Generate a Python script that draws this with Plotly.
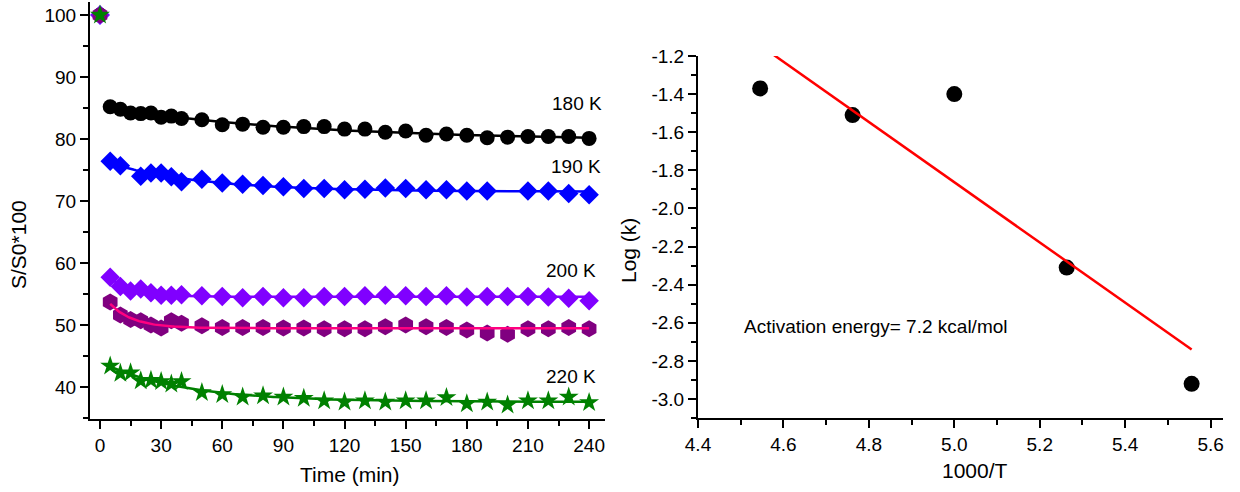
import numpy as np
import plotly.graph_objects as go

# ---------------- data ----------------
time_min = [0, 5, 10, 15, 20, 25, 30, 35, 40,
            50, 60, 70, 80, 90, 100, 110, 120, 130, 140, 150,
            160, 170, 180, 190, 200, 210, 220, 230, 240]

s_180K = [100, 85.2, 84.8, 84.2, 84.1, 84.2, 83.5, 83.7, 83.3,
          83.1, 82.3, 82.4, 81.9, 81.9, 82.0, 82.0, 81.6, 81.6, 81.1, 81.3,
          80.6, 80.8, 80.6, 80.2, 80.3, 80.4, 80.4, 80.4, 80.1]
s_190K = [100, 76.4, 75.7, None, 74.0, 74.5, 74.5, 73.9, 73.1,
          73.5, 72.9, 72.7, 72.5, 72.3, 72.0, 72.0, 71.8, 71.9, 72.1, 72.0,
          71.8, 71.8, 71.6, 71.6, None, 71.6, 71.6, 71.2, 71.0]
s_200K = [100, 57.7, 56.2, 55.5, 55.8, 55.2, 54.8, 54.8, 54.9,
          54.7, 54.6, 54.4, 54.6, 54.4, 54.4, 54.6, 54.6, 54.7, 54.8, 54.7,
          54.6, 54.7, 54.5, 54.6, 54.6, 54.6, 54.5, 54.3, 53.9]
s_210K = [100, 53.7, 51.6, 50.9, 50.7, 50.0, 49.5, 50.7, 50.3,
          49.9, 49.6, 49.6, 49.6, 49.5, 49.5, 49.4, 49.4, 49.4, 49.7, 50.0,
          49.7, 49.6, 49.2, 48.7, 48.5, 49.4, 49.4, 49.6, 49.4]
s_220K = [100, 43.4, 42.2, 42.3, 41.0, 41.1, 40.9, 40.5, 40.9,
          39.1, 38.8, 38.4, 38.6, 38.4, 38.2, 37.8, 37.6, 37.8, 37.6, 37.8,
          37.8, 38.3, 37.3, 37.6, 37.1, 37.8, 37.8, 38.4, 37.5]

temperatures_K = [220, 210, 200, 190, 180]
log_k = [-1.37, -1.51, -1.40, -2.31, -2.92]

left_x_ticks = [0, 30, 60, 90, 120, 150, 180, 210, 240]
left_y_ticks = [40, 50, 60, 70, 80, 90, 100]
right_x_ticks = [4.4, 4.6, 4.8, 5.0, 5.2, 5.4, 5.6]
right_x_labels = ["4.4", "4.6", "4.8", "5.0", "5.2", "5.4", "5.6"]
right_y_ticks = [-1.2, -1.4, -1.6, -1.8, -2.0, -2.2, -2.4, -2.6, -2.8, -3.0]
right_y_labels = ["-1.2", "-1.4", "-1.6", "-1.8", "-2.0", "-2.2", "-2.4",
                  "-2.6", "-2.8", "-3.0"]

FONT = "Arial, Liberation Sans, sans-serif"


def exp_decay_fit(t, y):
    """Least-squares fit of y = a + b*exp(-t/tau), tau by grid search."""
    t = np.asarray(t, float)
    y = np.asarray(y, float)
    best = None
    for tau in np.linspace(1.0, 600.0, 2400):
        A = np.column_stack([np.ones_like(t), np.exp(-t / tau)])
        coef, *_ = np.linalg.lstsq(A, y, rcond=None)
        err = np.sum((A @ coef - y) ** 2)
        if best is None or err < best[0]:
            best = (err, coef, tau)
    _, (a, b), tau = best
    return lambda tt: a + b * np.exp(-np.asarray(tt) / tau)


series = [
    ("180 K", s_180K, "circle", "#000000", "#000000", 15),
    ("190 K", s_190K, "diamond", "#0000FF", "#0000FF", 15),
    ("200 K", s_200K, "diamond", "#8000FF", "#8000FF", 15),
    ("210 K", s_210K, "hexagon", "#800080", "#FF0080", 17),
    ("220 K", s_220K, "star", "#008000", "#008000", 15),
]

fig = go.Figure()

for name, vals, symbol, mcolor, lcolor, msize in series:
    fig.add_trace(go.Scatter(
        x=time_min, y=vals, mode="markers", name=name,
        marker=dict(symbol=symbol, size=msize, color=mcolor, line=dict(width=0)),
        xaxis="x", yaxis="y", showlegend=False, cliponaxis=False,
    ))
    # decay fit over the measured points after t = 0
    pts = [(t, v) for t, v in zip(time_min, vals) if t > 0 and v is not None]
    tt = [p[0] for p in pts]
    vv = [p[1] for p in pts]
    model = exp_decay_fit(tt, vv)
    t_dense = np.linspace(min(tt), max(tt), 300)
    fig.add_trace(go.Scatter(
        x=t_dense, y=model(t_dense), mode="lines",
        line=dict(color=lcolor, width=2.5),
        xaxis="x", yaxis="y", showlegend=False, hoverinfo="skip",
    ))

# Arrhenius plot
inv_T = [1000.0 / T for T in temperatures_K]
slope, intercept = np.polyfit(inv_T, log_k, 1)
fit_x = np.array([min(inv_T), max(inv_T)])
fig.add_trace(go.Scatter(
    x=inv_T, y=log_k, mode="markers",
    marker=dict(symbol="circle", size=16, color="#000000"),
    xaxis="x2", yaxis="y2", showlegend=False,
))
fig.add_trace(go.Scatter(
    x=fit_x, y=slope * fit_x + intercept, mode="lines",
    line=dict(color="#FF0000", width=2.5),
    xaxis="x2", yaxis="y2", showlegend=False,
))

# Ea = -slope * ln(10) * R, with R in cal/(mol K); x is 1000/T
R_cal = 1.987
Ea_kcal = -slope * np.log(10) * R_cal

axis_common = dict(
    showgrid=False, zeroline=False, showline=True, linecolor="#000000",
    linewidth=2, ticks="outside", ticklen=8, tickwidth=2, tickcolor="#000000",
    tickfont=dict(family=FONT, size=19, color="#000000"),
    mirror=False, automargin=False,
)

fig.update_layout(
    width=1240, height=492, autosize=False,
    margin=dict(l=0, r=0, t=0, b=0),
    paper_bgcolor="white", plot_bgcolor="white",
    font=dict(family=FONT, color="#000000"),
    xaxis=dict(axis_common, domain=[90 / 1240, 605 / 1240], range=[-4.9, 247.8],
               tickvals=left_x_ticks, anchor="y",
               minor=dict(ticks="outside", ticklen=5, tickwidth=2,
                          tickcolor="#000000", dtick=15, tick0=0)),
    yaxis=dict(axis_common, domain=[1 - 419 / 492, 1 - 2 / 492], range=[34.84, 102.1],
               tickvals=left_y_ticks, anchor="x",
               minor=dict(ticks="outside", ticklen=5, tickwidth=2,
                          tickcolor="#000000", dtick=5, tick0=0)),
    xaxis2=dict(axis_common, domain=[698 / 1240, 1223 / 1240], range=[4.4, 5.629],
                tickvals=right_x_ticks, ticktext=right_x_labels, anchor="y2",
                minor=dict(ticks="outside", ticklen=5, tickwidth=2,
                           tickcolor="#000000", dtick=0.1, tick0=4.4)),
    yaxis2=dict(axis_common, domain=[1 - 418.3 / 492, 1 - 56 / 492], range=[-3.101, -1.2],
                tickvals=right_y_ticks, ticktext=right_y_labels, anchor="x2",
                minor=dict(ticks="outside", ticklen=5, tickwidth=2,
                           tickcolor="#000000", dtick=0.1, tick0=-3.0)),
)

annotations = [
    # axis titles
    dict(text="S/S0*100", x=18 / 1240, y=1 - 245 / 492, textangle=-90,
         font=dict(size=21)),
    dict(text="Time (min)", x=350 / 1240, y=1 - 474 / 492, font=dict(size=21)),
    dict(text="Log (k)", x=628 / 1240, y=1 - 251 / 492, textangle=-90,
         font=dict(size=21)),
    dict(text="1000/T", x=975 / 1240, y=1 - 470 / 492, font=dict(size=21)),
]
for a in annotations:
    a.update(xref="paper", yref="paper", showarrow=False,
             xanchor="center", yanchor="middle")
    a["font"].update(family=FONT, color="#000000")

# temperature labels beside each curve
label_pos = {"180 K": (234, 85.8), "190 K": (233.5, 75.5),
             "200 K": (231, 58.8), "220 K": (231, 41.7)}
for name, (lx, ly) in label_pos.items():
    annotations.append(dict(text=name, x=lx, y=ly, xref="x", yref="y",
                            showarrow=False, xanchor="center", yanchor="middle",
                            font=dict(family=FONT, size=19, color="#000000")))

annotations.append(dict(
    text=f"Activation energy= {Ea_kcal:.1f} kcal/mol",
    x=4.502, y=-2.617, xref="x2", yref="y2", showarrow=False,
    xanchor="left", yanchor="middle",
    font=dict(family=FONT, size=19, color="#000000"),
))

fig.update_layout(annotations=annotations)

fig.write_html("out.html")
